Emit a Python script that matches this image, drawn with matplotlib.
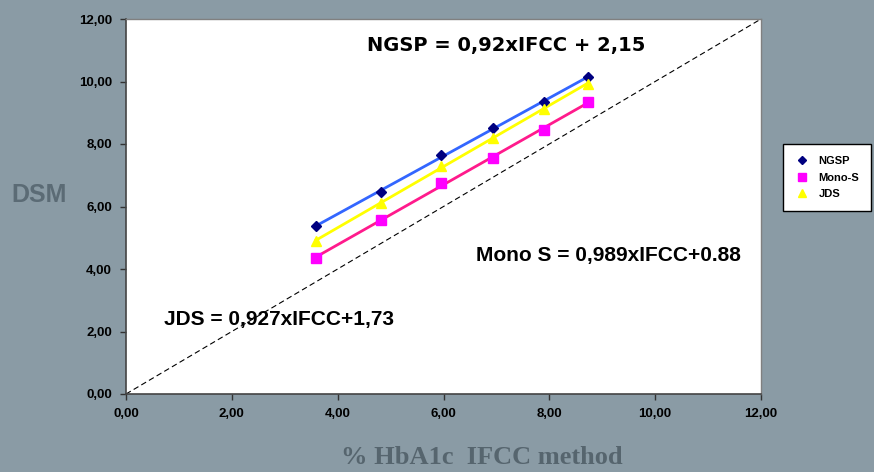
import numpy as np
import matplotlib
matplotlib.use("Agg")
import matplotlib.pyplot as plt
from matplotlib.ticker import FuncFormatter, MultipleLocator

# ---- data ----
ifcc = [3.59, 4.82, 5.95, 6.94, 7.89, 8.73]
ngsp = [5.39, 6.45, 7.65, 8.51, 9.33, 10.15]
mono_s = [4.35, 5.57, 6.76, 7.54, 8.46, 9.35]
jds = [4.90, 6.10, 7.30, 8.20, 9.13, 9.92]
identity = [0.0, 12.0]
series_names = ["NGSP", "Mono-S", "JDS"]
eq_texts = ["NGSP = 0,92xIFCC + 2,15", "Mono S = 0,989xIFCC+0.88", "JDS = 0,927xIFCC+1,73"]
x_label = "% HbA1c  IFCC method"
y_label = "DSM"

BG = "#8a9ba5"
fig = plt.figure(figsize=(8.74, 4.72), dpi=100, facecolor=BG)
ax = fig.add_axes([126/874, 1-394/472, 635/874, 375/472])
ax.set_facecolor("white")

x = np.array(ifcc)
# identity dashed line
ax.plot(identity, identity, color="black", lw=0.8, ls=(0, (5, 3)), zorder=2)

fit_colors = ["#3366ff", "#ff1a8c", "#ffff00"]
mk_colors = ["#000080", "#ff00ff", "#ffff00"]
markers = ["D", "s", "^"]
msizes = [5, 7, 7]
for ys, fc, mc, m, ms, name in zip([ngsp, mono_s, jds], fit_colors, mk_colors, markers, msizes, series_names):
    y = np.array(ys)
    a, b = np.polyfit(x, y, 1)
    xl = np.array([x.min(), x.max()])
    ax.plot(xl, a*xl + b, color=fc, lw=2, zorder=3)
    ax.plot(x, y, ls="none", marker=m, ms=ms, color=mc, mec=mc, label=name, zorder=4)

ax.set_xlim(0, 12)
ax.set_ylim(0, 12)
ax.xaxis.set_major_locator(MultipleLocator(2))
ax.yaxis.set_major_locator(MultipleLocator(2))
fmt = FuncFormatter(lambda v, p: f"{v:.2f}".replace(".", ","))
ax.xaxis.set_major_formatter(fmt)
ax.yaxis.set_major_formatter(fmt)
for lab in ax.get_xticklabels() + ax.get_yticklabels():
    lab.set_fontfamily("Liberation Sans")
    lab.set_fontweight("bold")
    lab.set_fontsize(9.5)
ax.tick_params(axis="both", direction="out", length=4, width=1, color="#333333")
ax.tick_params(axis="x", pad=6)
ax.tick_params(axis="y", pad=6)
for s in ["left", "bottom"]:
    ax.spines[s].set_color("#444444")
    ax.spines[s].set_linewidth(1.2)
for s in ["top", "right"]:
    ax.spines[s].set_color("#808080")
    ax.spines[s].set_linewidth(1.0)

# equation annotations
ax.text(506/874, 1-45/472, eq_texts[0], transform=fig.transFigure, ha="center", va="center",
        fontfamily="DejaVu Sans", fontweight="bold", fontsize=14)
ax.text(608/874, 1-255/472, eq_texts[1], transform=fig.transFigure, ha="center", va="center",
        fontfamily="Liberation Sans", fontweight="bold", fontsize=15)
ax.text(279/874, 1-320/472, eq_texts[2], transform=fig.transFigure, ha="center", va="center",
        fontfamily="Liberation Sans", fontweight="bold", fontsize=15)

# axis titles
fig.text(482/874, 1-457/472, x_label, ha="center", va="center", fontfamily="Liberation Serif",
         fontweight="bold", fontsize=19, color="#56656e")
fig.text(39/874, 1-195/472, y_label, ha="center", va="center", fontfamily="Liberation Sans",
         fontweight="bold", fontsize=18, color="#5b6b75")

leg = fig.legend(loc="center", bbox_to_anchor=(827/874, 1-177.5/472), bbox_transform=fig.transFigure,
                 frameon=True, fancybox=False, edgecolor="black", facecolor="white", framealpha=1,
                 prop={"family": "Liberation Sans", "weight": "bold", "size": 8},
                 handlelength=1.2, handletextpad=0.9, borderpad=1.1, labelspacing=0.6, markerscale=0.9)
leg.get_frame().set_linewidth(1.0)

fig.savefig("out.png", dpi=100, facecolor=BG)
